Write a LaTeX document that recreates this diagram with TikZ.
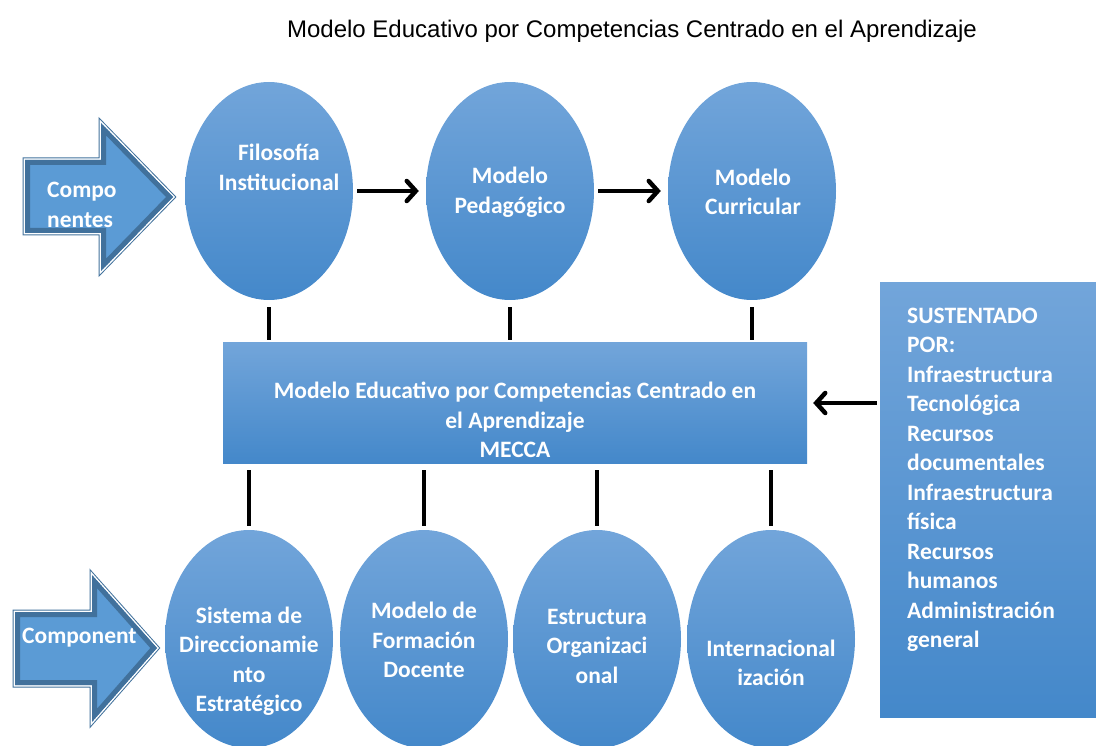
\documentclass[tikz,border=0pt]{standalone}
\usepackage{fontspec}
\setmainfont{Carlito}
\newfontfamily\titlefont{Liberation Sans}
\usetikzlibrary{shapes.geometric,arrows.meta}
\definecolor{topb}{RGB}{114,165,218}
\definecolor{botb}{RGB}{68,136,202}
\definecolor{midb}{RGB}{91,155,213}
\definecolor{darkb}{RGB}{65,113,156}
\tikzset{
  bubble/.style={ellipse, minimum width=168pt, minimum height=218pt, inner sep=0pt,
    top color=topb, bottom color=botb, draw=none},
  btext/.style={text=white, font=\fontsize{23.5}{29.5}\selectfont\bfseries, align=center, inner sep=0pt},
  conn/.style={line width=4pt, black},
  arr/.style={line width=4.5pt, black, -{Straight Barb[length=9pt,width=20pt,line cap=round]}},
}
\begin{document}
\begin{tikzpicture}[x=1pt,y=-1pt]
\useasboundingbox (0,0) rectangle (1096,746);
% title
\node[font=\titlefont\fontsize{24}{28}\selectfont, inner sep=0pt] (title) at (632,31) {Modelo Educativo por Competencias Centrado en el Aprendizaje};

% block arrows
\def\arrA{(25,160) -- (101,160) -- (101,123) -- (173,197) -- (101,271) -- (101,233) -- (25,233) -- cycle}
\def\arrB{(15,612) -- (92,612) -- (92,575) -- (157,648) -- (92,722) -- (92,685) -- (15,685) -- cycle}
\foreach \P in {\arrA,\arrB}{
  \draw[darkb, line width=5pt, line join=miter] \P;
  \draw[white, line width=3pt, line join=miter] \P;
  \begin{scope}
    \clip \P;
    \fill[midb] \P;
    \draw[darkb, line width=10pt, line join=miter] \P;
  \end{scope}
}
\node[btext, align=left, anchor=west] (compA) at (47,205) {Compo\\nentes};
\node[btext, anchor=west] (compB) at (22,638) {Component};

% top ellipses
\node[bubble] (fil) at (269,191) {};
\node[bubble] (ped) at (510,191) {};
\node[bubble] (cur) at (752,191) {};
\node[btext] at (279,167.5) {Filosofía\\Institucional};
\node[btext] at (510,192) {Modelo\\Pedagógico};
\node[btext] at (753,192) {Modelo\\Curricular};

% MECCA box
\node[rectangle, minimum width=584pt, minimum height=120pt, inner sep=0pt,
  top color=topb, bottom color=botb] (mecca) at (515,403) {};
\node[btext] at (515,420) {Modelo Educativo por Competencias Centrado en\\el Aprendizaje\\MECCA};

% right box
\node[rectangle, minimum width=216pt, minimum height=434pt, inner sep=0pt,
  top color=topb, bottom color=botb] (sus) at (988,500) {};
\node[btext, align=left, anchor=north west] at (907,307.5) {SUSTENTADO\\POR:\\Infraestructura\\Tecnológica\\Recursos\\documentales\\Infraestructura\\física\\Recursos\\humanos\\Administración\\general};

% bottom ellipses
\node[bubble] (sis) at (249,639) {};
\node[bubble] (for) at (424,639) {};
\node[bubble] (est) at (597,639) {};
\node[bubble] (int) at (771,639) {};
\node[btext] at (249,661) {Sistema de\\Direccionamie\\nto\\Estratégico};
\node[btext] at (424,640) {Modelo de\\Formación\\Docente};
\node[btext] at (597,646) {Estructura\\Organizaci\\onal};
\node[btext] at (771,663) {Internacional\\ización};

% arrows between top ellipses
\draw[arr] ([xshift=4pt]fil.east) -- ([xshift=-7pt]ped.west);
\draw[arr] ([xshift=4pt]ped.east) -- ([xshift=-7pt]cur.west);
% arrow from right box
\draw[arr] ([xshift=-3pt]sus.west |- mecca.east) -- ([xshift=6pt]mecca.east);

% vertical connectors top
\foreach \n in {fil,ped,cur}{
  \draw[conn] ([yshift=-7pt]\n.south) -- ([yshift=3pt]\n.south |- mecca.north);
}
% vertical connectors bottom
\foreach \n in {sis,for,est,int}{
  \draw[conn] ([yshift=-7pt]\n.north |- mecca.south) -- ([yshift=4pt]\n.north);
}
\end{tikzpicture}
\end{document}
